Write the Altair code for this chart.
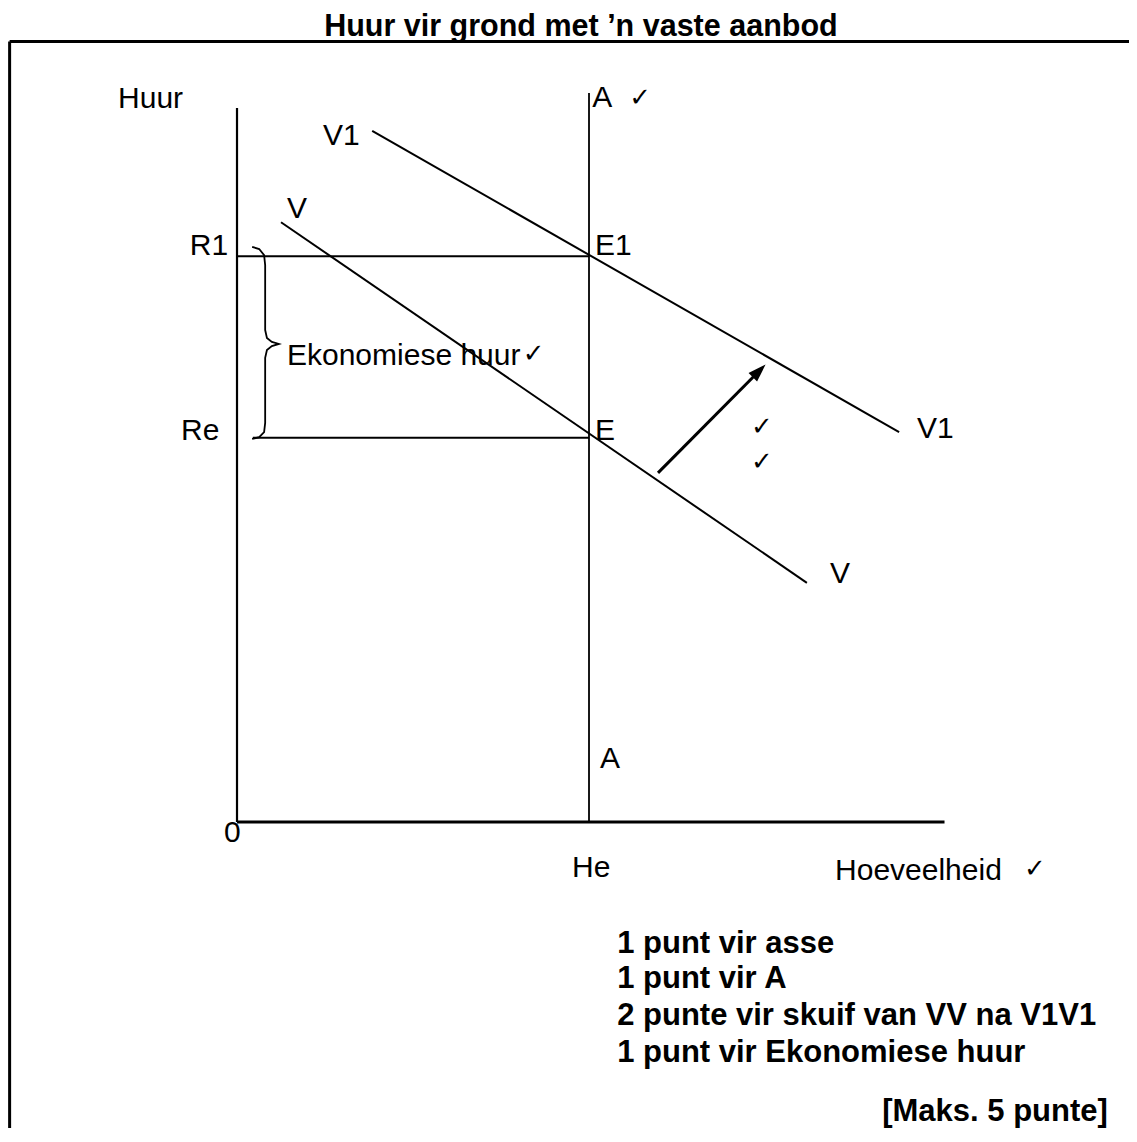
import altair as alt
import pandas as pd

# ---- diagram values (quantity units on x, rent units on y) ----
seg_name = ["border_top", "border_left", "y_axis", "x_axis", "aanbod_A",
            "vraag_V1", "vraag_V", "huur_R1", "huur_Re", "skuif"]
seg_x1 = [-6.46, -6.46, 0.0, 0.0, 10.0, 3.84, 1.25, 0.0, 0.45, 11.96]
seg_y1 = [21.86, 21.86, 20.0, 0.0, 20.42, 19.36, 16.80, 15.85, 10.76, 9.78]
seg_x2 = [25.57, -6.46, 0.0, 20.1, 10.0, 18.81, 16.19, 10.0, 10.0, 14.82]
seg_y2 = [21.86, -8.96, 0.0, 0.0, 0.0, 10.92, 6.70, 15.85, 10.76, 12.62]

# curly brace marking the economic rent (R1 down to Re)
brace_x = [0.43, 0.63, 0.77, 0.80, 0.80, 0.85, 0.99, 1.19, 0.99, 0.85, 0.80, 0.80, 0.77, 0.63, 0.43]
brace_y = [16.11, 16.05, 15.88, 15.60, 13.78, 13.56, 13.45, 13.39, 13.33, 13.22, 13.00, 11.18, 10.92, 10.78, 10.73]

# arrow head of the shift VV -> V1V1
head_x = [14.82]
head_y = [12.62]

# regular labels
lab_text = ["Huur", "A", "V1", "V", "R1", "E1", "Re", "E", "Ekonomiese huur",
            "V1", "V", "A", "0", "He", "Hoeveelheid"]
lab_x = [-3.38, 10.09, 2.44, 1.42, -1.34, 10.17, -1.59, 10.17, 1.42,
         19.32, 16.85, 10.31, -0.37, 9.52, 16.99]
lab_y = [20.0, 20.03, 18.96, 16.92, 15.88, 15.88, 10.70, 10.70, 12.80,
         10.76, 6.69, 1.51, -0.56, -1.54, -1.62]

# check marks
chk_x = [11.14, 8.12, 14.60, 14.60, 22.36]
chk_y = [20.05, 12.89, 10.84, 9.86, -1.53]

# bold notes
note_text = ["1 punt vir asse", "1 punt vir A", "2 punte vir skuif van VV na V1V1",
             "1 punt vir Ekonomiese huur"]
note_x = [10.80, 10.80, 10.80, 10.80]
note_y = [-3.67, -4.65, -5.69, -6.72]

title_text = ["Huur vir grond met \u2019n vaste aanbod"]
title_x = [9.77]
title_y = [22.025]

maks_text = ["[Maks. 5 punte]"]
maks_x = [24.74]
maks_y = [-8.375]

# ---- styles ----
line_w = {"border_top": 3, "border_left": 3, "y_axis": 2.2, "x_axis": 3, "aanbod_A": 1.8,
          "vraag_V1": 2, "vraag_V": 2, "huur_R1": 2, "huur_Re": 2, "skuif": 3}
FONT = "Liberation Sans"

xs = alt.Scale(domain=[-6.506, 25.341], nice=False, zero=False)
ys = alt.Scale(domain=[-8.571, 22.801], nice=False, zero=False)

def X(f="x"):
    return alt.X(f"{f}:Q", scale=xs, axis=None)

def Y(f="y"):
    return alt.Y(f"{f}:Q", scale=ys, axis=None)

segs = pd.DataFrame({"name": seg_name, "x": seg_x1, "y": seg_y1, "x2": seg_x2, "y2": seg_y2})
segs["w"] = segs["name"].map(line_w)

rules = alt.Chart(segs).mark_rule(color="black", strokeCap="butt").encode(
    x=X(), y=Y(), x2="x2:Q", y2="y2:Q",
    strokeWidth=alt.StrokeWidth("w:Q", scale=None),
)

brace = alt.Chart(pd.DataFrame({"x": brace_x, "y": brace_y, "o": list(range(len(brace_x)))})).mark_line(
    color="black", strokeWidth=1.8, interpolate="linear"
).encode(x=X(), y=Y(), order="o:Q")

head = alt.Chart(pd.DataFrame({"x": head_x, "y": head_y})).mark_point(
    shape="M0,-1L0.62,0.85L-0.62,0.85Z", filled=True, size=380, angle=45,
    color="black", opacity=1, strokeWidth=0
).encode(x=X(), y=Y())

labels = alt.Chart(pd.DataFrame({"x": lab_x, "y": lab_y, "t": lab_text})).mark_text(
    font=FONT, fontSize=30, align="left", baseline="alphabetic", color="black"
).encode(x=X(), y=Y(), text="t:N")

checks = alt.Chart(pd.DataFrame({"x": chk_x, "y": chk_y})).mark_text(
    font="DejaVu Sans", fontSize=26, align="left", baseline="alphabetic", color="black", text="\u2713"
).encode(x=X(), y=Y())

notes = alt.Chart(pd.DataFrame({"x": note_x, "y": note_y, "t": note_text})).mark_text(
    font=FONT, fontSize=31, fontWeight="bold", align="left", baseline="alphabetic", color="black"
).encode(x=X(), y=Y(), text="t:N")

title = alt.Chart(pd.DataFrame({"x": title_x, "y": title_y, "t": title_text})).mark_text(
    font=FONT, fontSize=30.5, fontWeight="bold", align="center", baseline="alphabetic", color="black"
).encode(x=X(), y=Y(), text="t:N")

maks = alt.Chart(pd.DataFrame({"x": maks_x, "y": maks_y, "t": maks_text})).mark_text(
    font=FONT, fontSize=31, fontWeight="bold", align="right", baseline="alphabetic", color="black"
).encode(x=X(), y=Y(), text="t:N")

chart = alt.layer(rules, brace, head, labels, checks, notes, title, maks).properties(
    width=1121, height=1120, padding=0, autosize=alt.AutoSizeParams(type="none"),
    background="white",
).configure_view(stroke=None)

chart.save("out.html", embed_options={"renderer": "svg", "actions": False})
